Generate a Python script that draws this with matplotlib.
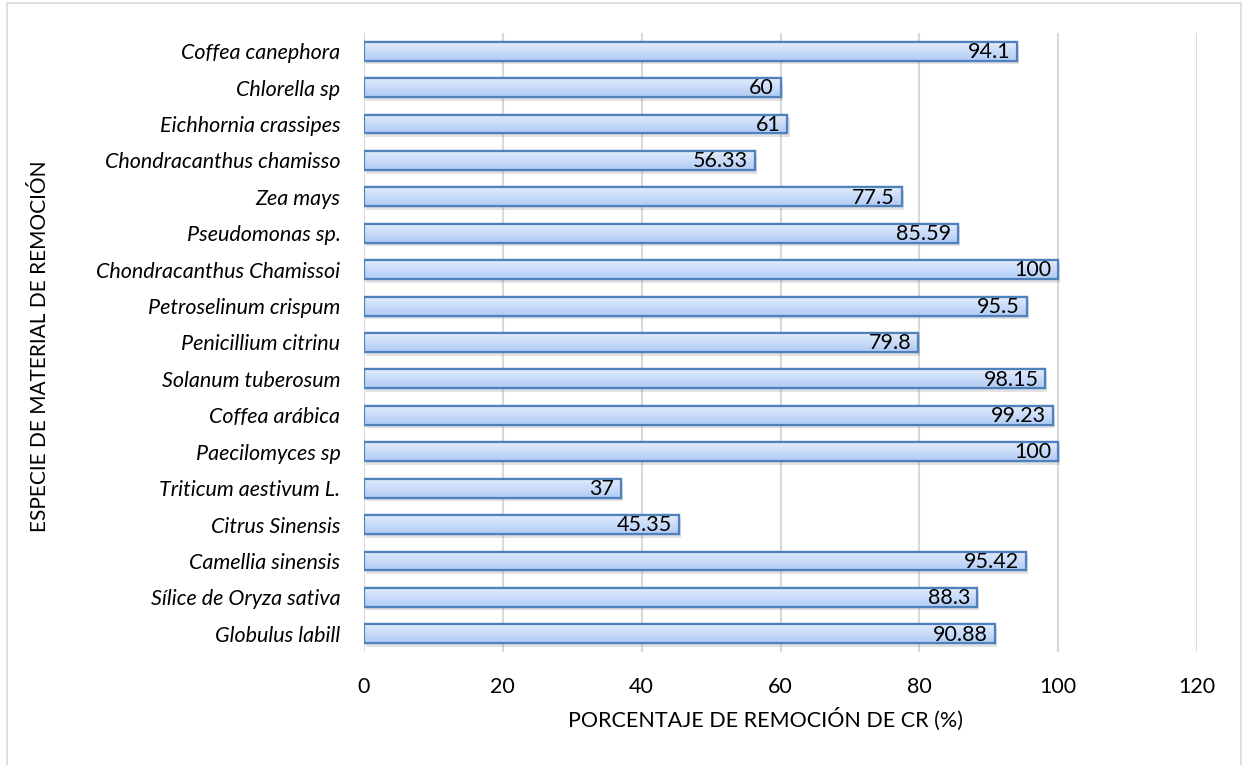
import numpy as np
import matplotlib
matplotlib.use('Agg')
import matplotlib.pyplot as plt
from matplotlib.patches import Rectangle
from matplotlib.colors import LinearSegmentedColormap

plt.rcParams['font.family'] = ['Lato', 'DejaVu Sans']

# Especies (de arriba hacia abajo) y porcentaje de remoción
especies = [
    'Coffea canephora', 'Chlorella sp', 'Eichhornia crassipes',
    'Chondracanthus chamisso', 'Zea mays', 'Pseudomonas sp.',
    'Chondracanthus Chamissoi', 'Petroselinum crispum', 'Penicillium citrinu',
    'Solanum tuberosum', 'Coffea arábica', 'Paecilomyces sp',
    'Triticum aestivum L.', 'Citrus Sinensis', 'Camellia sinensis',
    'Sílice de Oryza sativa', 'Globulus labill',
]
remocion = [94.1, 60, 61, 56.33, 77.5, 85.59, 100, 95.5, 79.8,
            98.15, 99.23, 100, 37, 45.35, 95.42, 88.3, 90.88]
etiquetas_valor = ['94.1', '60', '61', '56.33', '77.5', '85.59', '100', '95.5',
                   '79.8', '98.15', '99.23', '100', '37', '45.35', '95.42',
                   '88.3', '90.88']
x_ticks = [0, 20, 40, 60, 80, 100, 120]

fig = plt.figure(figsize=(12.47, 7.65), dpi=100)
ax = fig.add_axes([364 / 1247, 1 - 652 / 765, 833 / 1247, 619 / 765])

# marco exterior del gráfico
fig.patches.append(Rectangle((7 / 1247, -0.01), 1234 / 1247, 1 - 3 / 765 + 0.01,
                             transform=fig.transFigure, fill=False,
                             edgecolor='#d9d9d9', linewidth=1.2))

n = len(especies)
y = np.arange(n)[::-1]
h = 0.52

cmap = LinearSegmentedColormap.from_list('grad', ['#b0cbf5', '#e2ecfc'])
grad = np.linspace(0, 1, 64).reshape(-1, 1)

for yi, val in zip(y, remocion):
    # sombra
    ax.add_patch(Rectangle((0.3, yi - h / 2 - 0.1), val, h, facecolor='#7f7f7f',
                           alpha=0.22, edgecolor='none', zorder=2))
    bar = Rectangle((0, yi - h / 2), val, h, facecolor='#c5d9f8',
                    edgecolor='#4f81bd', linewidth=1.6, zorder=3)
    ax.add_patch(bar)
    im = ax.imshow(grad, cmap=cmap, aspect='auto', origin='lower',
                   extent=(0, val, yi - h / 2, yi + h / 2), zorder=3.5)
    im.set_clip_path(bar)
    ax.add_patch(Rectangle((0, yi - h / 2), val, h, facecolor='none',
                           edgecolor='#4f81bd', linewidth=1.6, zorder=4))

for yi, val, txt in zip(y, remocion, etiquetas_valor):
    ax.text(val - 1.0, yi - 0.02, txt, ha='right', va='center',
            fontsize=15.5, color='black', zorder=5)

ax.set_xlim(0, 120)
ax.set_ylim(-0.5, n - 0.5)
ax.set_xticks(x_ticks)
ax.set_xticklabels([str(t) for t in x_ticks], fontsize=15.5)
ax.set_yticks(y)
ax.set_yticklabels(especies, fontsize=15.5, style='italic')
ax.tick_params(axis='both', length=0)
ax.tick_params(axis='x', pad=18)
ax.tick_params(axis='y', pad=17)
for s in ax.spines.values():
    s.set_visible(False)
ax.grid(axis='x', color='#d9d9d9', linewidth=1.5, zorder=0)
ax.set_axisbelow(True)

ax.set_xlabel('PORCENTAJE DE REMOCIÓN DE CR (%)', fontsize=15.5, labelpad=10)
ax.xaxis.set_label_coords((765 - 364) / 833, -0.09)
fig.text(40 / 1247, 1 - 346 / 765, 'ESPECIE DE MATERIAL DE REMOCIÓN',
         rotation=90, ha='center', va='center', fontsize=15)

fig.savefig('out.png', dpi=100)
